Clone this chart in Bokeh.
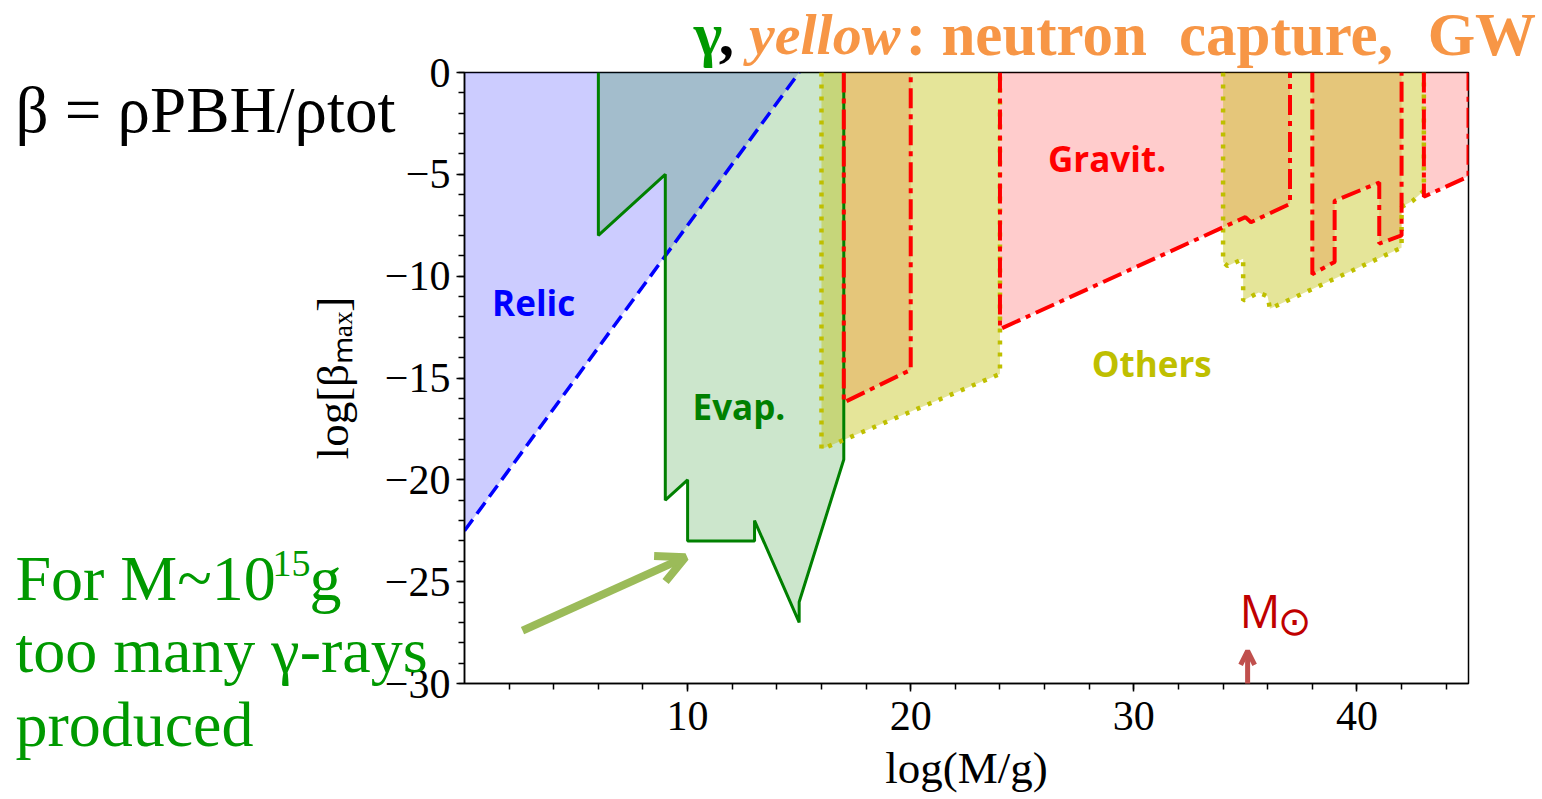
from bokeh.plotting import figure
from bokeh.models import Arrow, OpenHead, FixedTicker, ColumnDataSource
from bokeh.embed import file_html
from bokeh.resources import INLINE
from bokeh.core.properties import value

# ---- data: log10(M/g) on x, log10(beta_max) on y ----
x_range = (0, 45)
y_range = (-30, 0)

# relic bound (blue dashed)
relic_x = [0, 0, 15]
relic_y = [0, -22.5, 0]

# evaporation bound (green)
evap_x = [6, 6, 9, 9, 10, 10, 13, 13, 15, 15, 17, 17]
evap_y = [0, -8, -5, -21, -20, -23, -23, -22, -27, -26, -19, 0]

# gravitational bounds (red dash-dot)
grav_xs = [[17, 17, 20, 20],
           [24, 24, 35, 35.25, 37, 37],
           [38, 38, 39, 39, 41, 41, 42, 42],
           [43, 43, 45, 45]]
grav_ys = [[0, -16.2, -14.6, 0],
           [0, -12.6, -7.1, -7.35, -6.45, 0],
           [0, -9.9, -9.3, -6.3, -5.4, -8.4, -8.0, 0],
           [0, -6.1, -5.1, 0]]

# other bounds: neutron capture, GW (olive dotted)
oth_xs = [[16, 16, 24, 24],
          [34, 34, 34.2, 34.9, 34.9, 35.6, 36, 36.1, 42, 42, 42.5, 43, 43]]
oth_ys = [[0, -18.5, -14.8, 0],
          [0, -9.3, -9.5, -9.15, -11.2, -10.8, -11.0, -11.6, -8.6, -6.6, -6.3, -5.8, 0]]

# region names
region_names = ["Relic", "Evap.", "Gravit.", "Others"]
region_x = [3.1, 12.3, 28.8, 30.8]
region_y = [-11.3, -16.4, -4.2, -14.3]
region_colors = ["#0000ff", "#008000", "#ff0000", "#bfbf00"]

# axis ticks
x_major = [10, 20, 30, 40]
x_minor = list(range(2, 45, 2))
y_major = [0, -5, -10, -15, -20, -25, -30]
y_minor = list(range(-30, 1))

# solar mass marker
m_sun = 35.1

BLUE, GREEN, RED, OLIVE = "#0000ff", "#008000", "#ff0000", "#bfbf00"
ORANGE = "#f79646"
TXT_GREEN = "#009900"

p = figure(width=1542, height=799, x_range=x_range, y_range=y_range,
           output_backend="svg", toolbar_location=None,
           min_border_left=464, min_border_right=74,
           min_border_top=72, min_border_bottom=116,
           background_fill_color="white", border_fill_color="white")
p.xgrid.visible = False
p.ygrid.visible = False
p.outline_line_color = "black"
p.outline_line_width = 1.5

# filled regions
p.patch(relic_x, relic_y, fill_color=BLUE, fill_alpha=0.2, line_color=None)
p.patch(evap_x, evap_y, fill_color=GREEN, fill_alpha=0.2, line_color=None)
p.patches(grav_xs, grav_ys, fill_color=RED, fill_alpha=0.2, line_color=None)
p.patches(oth_xs, oth_ys, fill_color=OLIVE, fill_alpha=0.4, line_color=None)

# boundaries
p.line(relic_x[1:], relic_y[1:], line_color=BLUE, line_width=3.5, line_dash="14 7")
p.line(evap_x, evap_y, line_color=GREEN, line_width=3)
p.multi_line(oth_xs, oth_ys, line_color=OLIVE, line_width=4.5, line_dash="4 8")
p.multi_line(grav_xs, grav_ys, line_color=RED, line_width=4, line_dash="20 6 5 6")

# region names
src = ColumnDataSource(dict(x=region_x, y=region_y, t=region_names, c=region_colors))
p.text(x="x", y="y", text="t", text_color="c", source=src,
       text_font=value("Open Sans"), text_font_style="bold",
       text_font_size="35px", text_align="center", text_baseline="middle")

# axes
for ax, major, minor in ((p.xaxis[0], x_major, x_minor), (p.yaxis[0], y_major, y_minor)):
    ax.ticker = FixedTicker(ticks=major, minor_ticks=minor)
    ax.major_label_overrides = {t: str(t).replace("-", "\u2212") for t in major}
    ax.major_label_text_font = "Liberation Serif"
    ax.major_label_text_font_size = "42px"
    ax.major_label_text_color = "black"
    ax.axis_label_text_font = "Liberation Serif"
    ax.axis_label_text_font_size = "45px"
    ax.axis_label_text_font_style = "normal"
    ax.axis_label_text_color = "black"
    ax.axis_line_width = 1.5
    ax.major_tick_line_width = 1.5
    ax.minor_tick_line_width = 1.5
    ax.major_tick_in = 0
    ax.minor_tick_in = 0
    ax.major_tick_out = 8
    ax.minor_tick_out = 6

p.xaxis.major_label_standoff = 10
p.yaxis.major_label_standoff = 6
p.xaxis.axis_label = "log(M/g)"
p.xaxis.axis_label_standoff = 10
p.yaxis.axis_label = "log[\u03b2\u2098\u2090\u2093]"
p.yaxis.axis_label_standoff = 24


def add_text(x, y, text, color, size, style="normal", font="Liberation Serif", align="left"):
    # drawn on the overlay level so it may sit in the margins around the frame
    r = p.text(x=[x], y=[y], text=[text], text_color=color, text_font=value(font),
               text_font_size=size, text_font_style=style,
               text_align=align, text_baseline="alphabetic")
    r.level = "overlay"
    return r


# heading pieces
add_text(10.27, 1.85, "\u03b3", TXT_GREEN, "61px", "bold")
add_text(11.4, 1.85, ",", "black", "61px", "bold")
add_text(12.75, 1.85, "yellow", ORANGE, "58px", "bold italic")
add_text(19.78, 1.85, ": neutron", ORANGE, "61px", "bold")
add_text(32.02, 1.85, "capture,", ORANGE, "61px", "bold")
add_text(48.03, 1.85, "GW", ORANGE, "61px", "bold", align="right")

# definition of beta
add_text(-20.13, -1.85, "\u03b2 = \u03c1PBH/\u03c1tot", "black", "65px")

# gamma-ray note
add_text(-20.13, -24.85, "For M~10", TXT_GREEN, "64px")
add_text(-8.6, -24.1, "15", TXT_GREEN, "38px")
add_text(-6.95, -24.85, "g", TXT_GREEN, "64px")
add_text(-20.13, -28.4, "too many \u03b3-rays", TXT_GREEN, "64px")
add_text(-20.13, -32.0, "produced", TXT_GREEN, "64px")

# pointer to the evaporation dip
p.add_layout(Arrow(end=OpenHead(line_color="#9bbb59", line_width=8, size=28),
                   x_start=2.6, y_start=-27.4, x_end=9.9, y_end=-23.8,
                   line_color="#9bbb59", line_width=8))

# solar mass marker
add_text(m_sun - 0.35, -26.4, "M", "#c00000", "45px", font="Open Sans")
add_text(m_sun + 1.35, -26.95, "\u2299", "#c00000", "40px", font="DejaVu Sans")
p.add_layout(Arrow(end=OpenHead(line_color="#c0504d", line_width=5, size=14),
                   x_start=m_sun, y_start=-30.35, x_end=m_sun, y_end=-28.4,
                   line_color="#c0504d", line_width=5))

open("out.html", "w").write(file_html(p, INLINE))
